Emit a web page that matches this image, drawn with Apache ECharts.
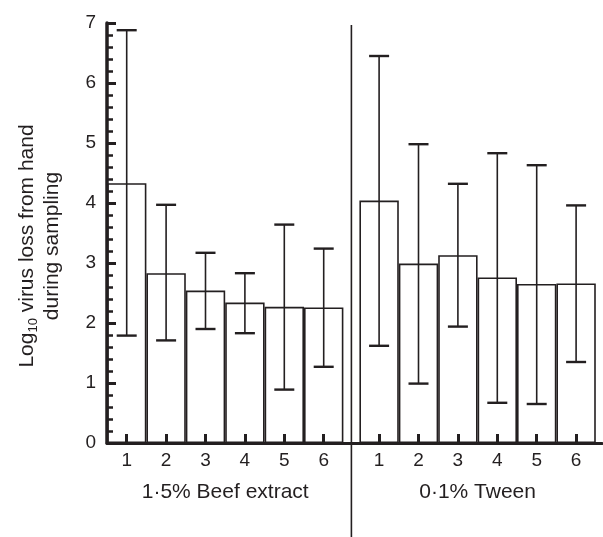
<!DOCTYPE html>
<html>
<head>
<meta charset="utf-8">
<script src="https://cdn.jsdelivr.net/npm/echarts@6/dist/echarts.min.js"></script>
<style>
  html, body { margin: 0; padding: 0; background: #fff; }
  #main { width: 603px; height: 537px; }
</style>
</head>
<body>
<div id="main"></div>
<script>
var categories = ['1', '2', '3', '4', '5', '6'];
var groupNames = ['1·5% Beef extract', '0·1% Tween'];

var beefMean = [4.33, 2.83, 2.54, 2.34, 2.27, 2.26];
var beefHigh = [6.88, 3.97, 3.17, 2.83, 3.64, 3.24];
var beefLow  = [1.79, 1.71, 1.90, 1.83, 0.89, 1.27];

var tweenMean = [4.04, 2.99, 3.13, 2.76, 2.65, 2.66];
var tweenHigh = [6.45, 4.98, 4.32, 4.83, 4.63, 3.96];
var tweenLow  = [1.62, 0.99, 1.94, 0.67, 0.65, 1.35];

var ink = '#231f20';
var font = 'Liberation Sans, Arial, Helvetica, sans-serif';

// layout (px)
var gTop = 23, gBottom = 94, gLeft = 107, band = 39.4, gap = 16;
var groupW = band * 6;
var left2 = gLeft + groupW + gap;

function errData(lo, hi) {
  return lo.map(function (v, i) { return [i, v, hi[i]]; });
}

function renderErr(params, api) {
  var x = api.value(0);
  var pHi = api.coord([x, api.value(2)]);
  var pLo = api.coord([x, api.value(1)]);
  var half = 10;
  var st = { stroke: ink, lineWidth: 1.6 };
  var cap = { stroke: ink, lineWidth: 2.4 };
  return {
    type: 'group',
    children: [
      { type: 'line', shape: { x1: pHi[0], y1: pHi[1], x2: pLo[0], y2: pLo[1] }, style: st },
      { type: 'line', shape: { x1: pHi[0] - half, y1: pHi[1], x2: pHi[0] + half, y2: pHi[1] }, style: cap },
      { type: 'line', shape: { x1: pLo[0] - half, y1: pLo[1], x2: pLo[0] + half, y2: pLo[1] }, style: cap }
    ]
  };
}

function groupXAxis(idx, name) {
  return {
    type: 'category',
    gridIndex: idx,
    z: 10,
    data: categories,
    axisLine: { show: false },
    axisTick: { show: true, inside: true, alignWithLabel: true, length: 9, lineStyle: { color: ink, width: 3 } },
    axisLabel: { fontSize: 19, color: ink, margin: 8, fontFamily: font },
    name: name,
    nameLocation: 'middle',
    nameGap: 39,
    nameTextStyle: { fontSize: 21, color: ink, fontFamily: font }
  };
}

function groupYAxis(idx) {
  return { type: 'value', gridIndex: idx, min: 0, max: 7, show: false };
}

var barStyle = { color: '#fff', borderColor: ink, borderWidth: 1.6 };

var chart = echarts.init(document.getElementById('main'), null, { renderer: 'canvas' });

var option = {
  animation: false,
  backgroundColor: '#fff',
  grid: [
    { left: gLeft, right: 1, top: gTop, bottom: gBottom },
    { left: gLeft, width: groupW, top: gTop, bottom: gBottom },
    { left: left2, width: groupW, top: gTop, bottom: gBottom }
  ],
  xAxis: [
    {
      type: 'value', gridIndex: 0, min: 0, max: 1, z: 10,
      axisLine: { show: true, lineStyle: { color: ink, width: 3 } },
      axisTick: { show: false }, axisLabel: { show: false }, splitLine: { show: false }
    },
    groupXAxis(1, groupNames[0]),
    groupXAxis(2, groupNames[1])
  ],
  yAxis: [
    {
      type: 'value', gridIndex: 0, min: 0, max: 7, interval: 1, z: 10,
      axisLine: { show: true, lineStyle: { color: ink, width: 3.5 } },
      axisTick: { show: true, inside: true, length: 9, lineStyle: { color: ink, width: 3 } },
      minorTick: { show: true, splitNumber: 5, length: 6, lineStyle: { color: ink, width: 2.5 } },
      splitLine: { show: false },
      axisLabel: { fontSize: 19, color: ink, margin: 11, fontFamily: font },
      name: '{n|Log}{s|10}{n| virus loss from hand}\n{n|during sampling}',
      nameLocation: 'middle',
      nameRotate: 90,
      nameGap: 42,
      nameTextStyle: {
        color: ink, fontSize: 21, lineHeight: 25, fontFamily: font,
        padding: [0, 26, 0, 0],
        rich: {
          n: { fontSize: 21, lineHeight: 25, color: ink, fontFamily: font },
          s: { fontSize: 13, lineHeight: 25, color: ink, fontFamily: font, verticalAlign: 'bottom' }
        }
      }
    },
    groupYAxis(1),
    groupYAxis(2)
  ],
  series: [
    { type: 'bar', xAxisIndex: 1, yAxisIndex: 1, data: beefMean, barCategoryGap: '0%', itemStyle: barStyle, z: 2 },
    { type: 'bar', xAxisIndex: 2, yAxisIndex: 2, data: tweenMean, barCategoryGap: '0%', itemStyle: barStyle, z: 2 },
    { type: 'custom', xAxisIndex: 1, yAxisIndex: 1, data: errData(beefLow, beefHigh), renderItem: renderErr, z: 3 },
    { type: 'custom', xAxisIndex: 2, yAxisIndex: 2, data: errData(tweenLow, tweenHigh), renderItem: renderErr, z: 3 }
  ],
  graphic: [
    {
      type: 'line', z: 10,
      shape: { x1: gLeft + groupW + gap / 2, y1: gTop + 2, x2: gLeft + groupW + gap / 2, y2: 537 },
      style: { stroke: ink, lineWidth: 1.6 }
    }
  ]
};

chart.setOption(option);
</script>
</body>
</html>
